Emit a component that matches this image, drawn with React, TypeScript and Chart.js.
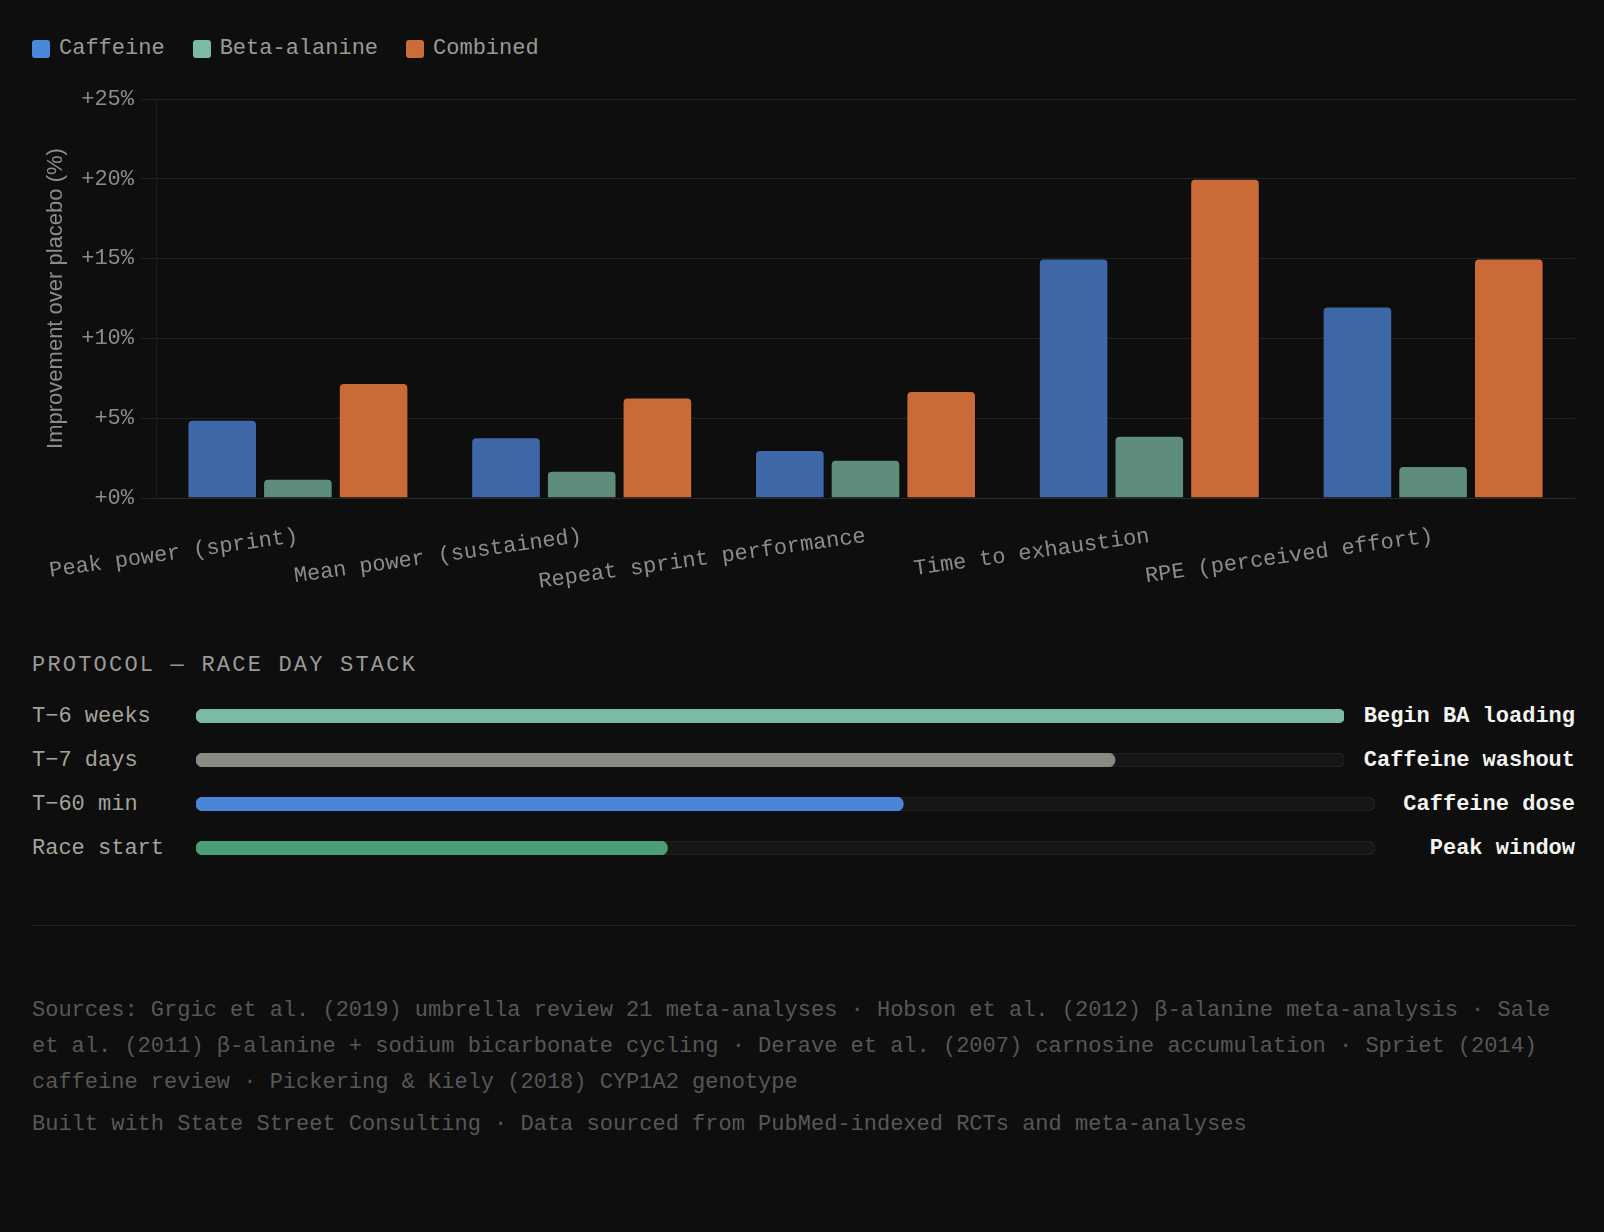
import React, { useEffect, useRef } from "react";
import { Chart, registerables } from "chart.js";

Chart.register(...registerables);

// ---------- data ----------
const categories = [
  "Peak power (sprint)",
  "Mean power (sustained)",
  "Repeat sprint performance",
  "Time to exhaustion",
  "RPE (perceived effort)",
];
const seriesNames = ["Caffeine", "Beta-alanine", "Combined"];
const caffeineValues = [4.9, 3.8, 3.0, 15.0, 12.0];
const betaAlanineValues = [1.2, 1.7, 2.4, 3.9, 2.0];
const combinedValues = [7.2, 6.3, 6.7, 20.0, 15.0];
const yTickValues = [0, 5, 10, 15, 20, 25];
const yAxisTitle = "Improvement over placebo (%)";

const protocolTitle = "PROTOCOL — RACE DAY STACK";
const protocolTimes = ["T−6 weeks", "T−7 days", "T−60 min", "Race start"];
const protocolActions = ["Begin BA loading", "Caffeine washout", "Caffeine dose", "Peak window"];
const protocolProgress = [100, 80, 60, 40];

const sourcesText =
  "Sources: Grgic et al. (2019) umbrella review 21 meta-analyses · Hobson et al. (2012) β-alanine meta-analysis · Sale et al. (2011) β-alanine + sodium bicarbonate cycling · Derave et al. (2007) carnosine accumulation · Spriet (2014) caffeine review · Pickering & Kiely (2018) CYP1A2 genotype";
const builtText =
  "Built with State Street Consulting · Data sourced from PubMed-indexed RCTs and meta-analyses";

// ---------- styles ----------
const MONO = '"Liberation Mono", "DejaVu Sans Mono", monospace';
const SANS = '"Liberation Sans", Arial, sans-serif';
const BG = "#0e0e0e";
const LEGEND_COLORS = ["#4a88dc", "#7bbba5", "#cc6d37"];
const BAR_COLORS = ["#3d67a6", "#5e8e7b", "#c96a37"];
const PROTOCOL_COLORS = ["#7bbba5", "#8a8a80", "#4a86d8", "#4a9e78"];
const TICK_COLOR = "#8c8c88";

function ImpactChart() {
  const ref = useRef<HTMLCanvasElement | null>(null);
  useEffect(() => {
    if (!ref.current) return;
    const seriesValues = [caffeineValues, betaAlanineValues, combinedValues];
    const chart = new Chart(ref.current, {
      type: "bar",
      data: {
        labels: categories,
        datasets: seriesNames.map((name, i) => ({
          label: name,
          data: seriesValues[i],
          backgroundColor: BAR_COLORS[i],
          borderColor: "rgba(0,0,0,0.25)",
          borderWidth: 1,
          borderRadius: 5,
          borderSkipped: "start" as const,
          categoryPercentage: 0.8,
          barPercentage: 0.92,
        })),
      },
      options: {
        animation: false,
        responsive: true,
        maintainAspectRatio: false,
        events: [],
        layout: { padding: { top: 35, right: 0, bottom: 0, left: 0 } },
        plugins: {
          legend: { display: false },
          tooltip: { enabled: false },
        },
        scales: {
          x: {
            grid: {
              display: true,
              drawOnChartArea: false,
              drawTicks: true,
              tickLength: 25,
              color: "rgba(0,0,0,0)",
            },
            border: { display: true, color: "#2a2a2a" },
            ticks: {
              color: TICK_COLOR,
              font: { family: MONO, size: 22 },
              minRotation: 8,
              maxRotation: 8,
              padding: 0,
              autoSkip: false,
            },
            afterFit: (scale: any) => {
              scale.height = 122;
            },
          },
          y: {
            min: 0,
            max: 25,
            afterBuildTicks: (scale: any) => {
              scale.ticks = yTickValues.map((v) => ({ value: v }));
            },
            ticks: {
              color: TICK_COLOR,
              font: { family: MONO, size: 22 },
              padding: 7,
              callback: (v: any) => `+${v}%`,
            },
            grid: { color: "#232323", tickLength: 15, drawTicks: true },
            border: { display: true, color: "#1c1c1c" },
            title: {
              display: true,
              text: yAxisTitle,
              color: TICK_COLOR,
              font: { family: SANS, size: 22 },
              padding: { top: 11, bottom: 0 },
            },
            afterFit: (scale: any) => {
              scale.width = 124;
            },
          },
        },
      },
    });
    return () => chart.destroy();
  }, []);
  return (
    <div style={{ position: "relative", height: 556 }}>
      <canvas ref={ref} />
    </div>
  );
}

function ProtocolBar({ value, color }: { value: number; color: string }) {
  const ref = useRef<HTMLCanvasElement | null>(null);
  useEffect(() => {
    if (!ref.current) return;
    const chart = new Chart(ref.current, {
      type: "bar",
      data: {
        labels: [""],
        datasets: [
          {
            data: [value],
            backgroundColor: color,
            borderWidth: 0,
            borderRadius: 7,
            borderSkipped: false,
            grouped: false,
            order: 0,
            barPercentage: 1,
            categoryPercentage: 1,
          },
          {
            data: [100],
            backgroundColor: "#161616",
            borderColor: "#262626",
            borderWidth: 1,
            borderRadius: 7,
            borderSkipped: false,
            grouped: false,
            order: 1,
            barPercentage: 1,
            categoryPercentage: 1,
          },
        ],
      },
      options: {
        indexAxis: "y",
        animation: false,
        responsive: true,
        maintainAspectRatio: false,
        events: [],
        layout: { padding: 0 },
        plugins: { legend: { display: false }, tooltip: { enabled: false } },
        scales: {
          x: { display: false, min: 0, max: 100 },
          y: { display: false },
        },
      },
    });
    return () => chart.destroy();
  }, [value, color]);
  return (
    <div style={{ position: "relative", flex: 1, minWidth: 0, height: 14 }}>
      <canvas ref={ref} />
    </div>
  );
}

export default function App() {
  useEffect(() => {
    document.body.style.margin = "0";
    document.body.style.background = BG;
  }, []);

  return (
    <div
      style={{
        background: BG,
        minHeight: "100vh",
        boxSizing: "border-box",
        padding: "34px 29px 32px 32px",
        fontFamily: MONO,
        fontSize: 22,
      }}
    >
      {/* legend */}
      <div style={{ display: "flex", alignItems: "center", height: 30 }}>
        {seriesNames.map((name, i) => (
          <div key={name} style={{ display: "flex", alignItems: "center", marginRight: 28 }}>
            <span
              style={{
                width: 18,
                height: 18,
                borderRadius: 3,
                background: LEGEND_COLORS[i],
                marginRight: 9,
                display: "inline-block",
              }}
            />
            <span style={{ color: "#9a9a94", lineHeight: "30px" }}>{name}</span>
          </div>
        ))}
      </div>

      <ImpactChart />

      {/* protocol */}
      <div
        style={{
          marginTop: 33,
          color: "#9a9a96",
          letterSpacing: "2.2px",
          lineHeight: "26px",
        }}
      >
        {protocolTitle}
      </div>
      <div style={{ marginTop: 15 }}>
        {protocolTimes.map((t, i) => (
          <div key={t} style={{ display: "flex", alignItems: "center", height: 44 }}>
            <div style={{ width: 164, flex: "none", color: "#a3a39d" }}>{t}</div>
            <ProtocolBar value={protocolProgress[i]} color={PROTOCOL_COLORS[i]} />
            <div
              style={{
                marginLeft: 20,
                minWidth: 180,
                textAlign: "right",
                fontWeight: 700,
                color: "#f2f2ee",
                whiteSpace: "nowrap",
              }}
            >
              {protocolActions[i]}
            </div>
          </div>
        ))}
      </div>

      <div style={{ marginTop: 55, borderTop: "1px solid #222222" }} />

      <div style={{ marginTop: 67, color: "#575755", lineHeight: "36px" }}>{sourcesText}</div>
      <div style={{ marginTop: 6, color: "#575755", lineHeight: "36px" }}>{builtText}</div>
    </div>
  );
}
